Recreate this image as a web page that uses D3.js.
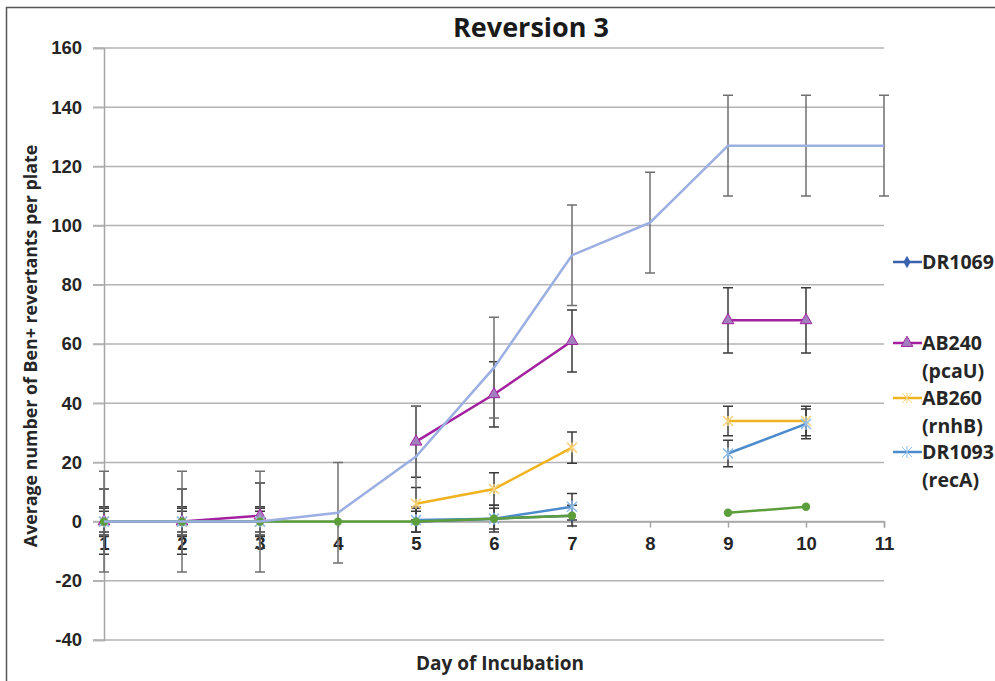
<!DOCTYPE html>
<html>
<head>
<meta charset="utf-8">
<script src="https://d3js.org/d3.v7.min.js"></script>
<style>
  body { margin: 0; background: #fff; }
  svg { font-family: "Open Sans", "Liberation Sans", sans-serif; }
</style>
</head>
<body>
<svg></svg>
<script>
// declare the size of the chart
var width = 995;
var height = 681;

// data
var days = [1, 2, 3, 4, 5, 6, 7, 8, 9, 10, 11];
var yTicks = [-40, -20, 0, 20, 40, 60, 80, 100, 120, 140, 160];

var dr1069 = [0, 0, 0, null, 0, 1, 2, null, null, null, null];
var ab240 = [0, 0, 2, null, 27, 43, 61, null, 68, 68, null];
var ab240Err = [11, 11, 11, null, 12, 11, 10.5, null, 11, 11, null];
var ab260 = [0, 0, 0, null, 6, 11, 25, null, 34, 34, null];
var ab260Err = [5, 5, 5, null, 5.5, 5.5, 5.3, null, 5, 5, null];
var dr1093 = [0, 0, 0, null, 0.5, 1, 5, null, 23, 33, null];
var dr1093Err = [4.5, 4.5, 4.5, null, 4, 4.5, 4.5, null, 4.5, 5, null];
var other1 = [0, 0, 0, 0, 0, 1, 2, null, 3, 5, null];
var other1Err = [3.5, 3.5, 3.5, null, 3.5, 3.5, 3.5, null, null, null, null];
var other2 = [0, 0, 0, 3, 22, 52, 90, 101, 127, 127, 127];
var other2Err = [17, 17, 17, 17, 17, 17, 17, 17, 17, 17, 17];

var series = [
    { name: ["DR1069"], values: dr1069, err: null, color: "#3a62ad", marker: "diamond", legend: true },
    { name: ["AB240", "(pcaU)"], values: ab240, err: ab240Err, color: "#a3219f", marker: "triangle", legend: true },
    { name: ["AB260", "(rnhB)"], values: ab260, err: ab260Err, color: "#f0b320", marker: "x", legend: true },
    { name: ["DR1093", "(recA)"], values: dr1093, err: dr1093Err, color: "#4d8ccc", marker: "star", legend: true },
    { name: [""], values: other1, err: other1Err, color: "#5b9e3b", marker: "circle", legend: false },
    { name: [""], values: other2, err: other2Err, color: "#9cafe2", marker: null, legend: false }
];

var svg = d3.select("svg")
    .attr("width", width)
    .attr("height", height);

// outer frame of the pasted chart
svg.append("path")
    .attr("d", "M6.5," + height + "V7.5H" + width)
    .attr("fill", "none")
    .attr("stroke", "#555")
    .attr("stroke-width", 1.5);

var x = d3.scaleLinear().domain([1, 11]).range([104, 884]);
var y = d3.scaleLinear().domain([-40, 160]).range([640, 48]);

// horizontal gridlines
svg.append("g")
    .selectAll("line")
    .data(yTicks)
    .join("line")
    .attr("x1", 93)
    .attr("x2", x(11))
    .attr("y1", (d) => y(d))
    .attr("y2", (d) => y(d))
    .attr("stroke", "#b3b3b3")
    .attr("stroke-width", 1.5);

// y axis
var yAxis = svg.append("g")
    .attr("transform", "translate(" + x(1) + ",0)")
    .call(d3.axisLeft(y).tickValues(yTicks).tickSize(11).tickPadding(11).tickFormat((d) => String(d)));
yAxis.select(".domain").attr("stroke", "#a6a6a6").attr("stroke-width", 1.5);
yAxis.selectAll(".tick line").attr("stroke", "#b3b3b3").attr("stroke-width", 1.5);
yAxis.selectAll("text")
    .style("font-size", "18.5px")
    .style("font-weight", "bold")
    .attr("fill", "#262626");

// x axis sits on the zero line
var xAxis = svg.append("g")
    .attr("transform", "translate(0," + y(0) + ")")
    .call(d3.axisBottom(x).tickValues(days).tickSize(6).tickPadding(9).tickFormat(d3.format("d")));
xAxis.select(".domain").attr("stroke", "#a6a6a6").attr("stroke-width", 1.5);
xAxis.selectAll(".tick line").attr("stroke", "#a6a6a6").attr("stroke-width", 1.5);
xAxis.selectAll("text")
    .style("font-size", "18.5px")
    .style("font-weight", "bold")
    .attr("fill", "#262626");

// lines, error bars and markers
var line = d3.line()
    .defined((d) => d.v != null)
    .x((d) => x(d.day))
    .y((d) => y(d.v));

var errGroup = svg.append("g");
var lineGroup = svg.append("g");

function markerPath(type) {
    if (type == "diamond") return d3.symbol(d3.symbolDiamond, 45)();
    if (type == "triangle") return d3.symbol(d3.symbolTriangle, 60)();
    if (type == "circle") return d3.symbol(d3.symbolCircle, 55)();
    if (type == "x") return "M-5,-5L5,5M-5,5L5,-5M0,-5V5";
    if (type == "star") return "M-5,-5L5,5M-5,5L5,-5M0,-6V6";
    return null;
}

series.forEach(function (s) {
    var pts = days.map((d, i) => ({ day: d, v: s.values[i], e: s.err ? s.err[i] : null }));
    var g = lineGroup.append("g");

    g.append("path")
        .datum(pts)
        .attr("d", line)
        .attr("fill", "none")
        .attr("stroke", s.color)
        .attr("stroke-width", 2.5);

    // error bars
    var eb = pts.filter((d) => d.v != null && d.e != null);
    var col = s.marker == null ? "#6f6f6f" : "#3a3a3a";
    errGroup.selectAll(null)
        .data(eb)
        .join("path")
        .attr("d", (d) => {
            var cx = x(d.day), t = y(d.v + d.e), b = y(d.v - d.e);
            return "M" + cx + "," + t + "V" + b +
                "M" + (cx - 5) + "," + t + "H" + (cx + 5) +
                "M" + (cx - 5) + "," + b + "H" + (cx + 5);
        })
        .attr("fill", "none")
        .attr("stroke", col)
        .attr("stroke-width", 1.5);

    if (s.marker) {
        g.selectAll(null)
            .data(pts.filter((d) => d.v != null))
            .join("path")
            .attr("transform", (d) => "translate(" + x(d.day) + "," + y(d.v) + ")")
            .attr("d", markerPath(s.marker))
            .attr("fill", s.marker == "triangle" ? "#a47fc0" : s.color)
            .attr("stroke", s.marker == "x" ? "#f7d27a" : s.marker == "star" ? "#8fbbe6" : s.marker == "triangle" ? "#a3219f" : "none")
            .attr("stroke-width", s.marker == "triangle" ? 1 : 1.5);
    }
});

// legend
var legendRows = [262, 343, 398, 452];
var legend = svg.append("g");
series.filter((s) => s.legend).forEach(function (s, i) {
    var ly = legendRows[i];
    legend.append("line")
        .attr("x1", 893).attr("x2", 922)
        .attr("y1", ly).attr("y2", ly)
        .attr("stroke", s.color)
        .attr("stroke-width", 2.5);
    legend.append("path")
        .attr("transform", "translate(907," + ly + ")")
        .attr("d", markerPath(s.marker))
        .attr("fill", s.marker == "triangle" ? "#a47fc0" : s.color)
        .attr("stroke", s.marker == "x" ? "#f7d27a" : s.marker == "star" ? "#8fbbe6" : s.marker == "triangle" ? "#a3219f" : "none")
        .attr("stroke-width", 1);
    s.name.forEach(function (t, j) {
        legend.append("text")
            .attr("x", 922)
            .attr("y", ly + 7 + j * 28)
            .text(t)
            .style("font-size", "19.5px")
            .style("font-weight", "bold")
            .attr("fill", "#262626");
    });
});

// title and axis titles
svg.append("text")
    .attr("x", 531)
    .attr("y", 37)
    .attr("text-anchor", "middle")
    .text("Reversion 3")
    .style("font-size", "27px")
    .style("font-weight", "bold")
    .attr("fill", "#1a1a1a");

svg.append("text")
    .attr("x", 500)
    .attr("y", 670)
    .attr("text-anchor", "middle")
    .text("Day of Incubation")
    .style("font-size", "19px")
    .style("font-weight", "bold")
    .attr("fill", "#262626");

svg.append("text")
    .attr("transform", "translate(37,346) rotate(-90)")
    .attr("text-anchor", "middle")
    .text("Average number of Ben+ revertants per plate")
    .style("font-size", "17.8px")
    .style("font-weight", "bold")
    .attr("fill", "#262626");
</script>
</body>
</html>
